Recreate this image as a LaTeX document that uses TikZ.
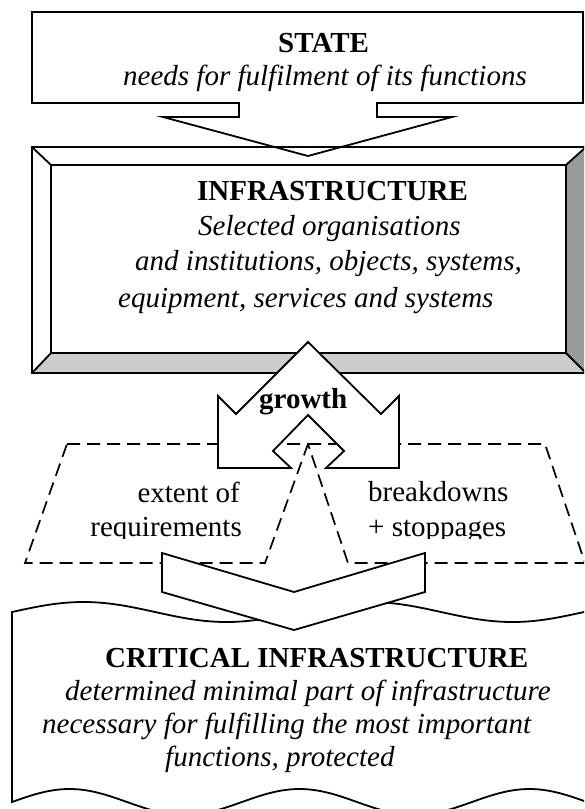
\documentclass[tikz,border=0pt]{standalone}
\usepackage{fontspec}
\setmainfont{Liberation Serif}
\begin{document}
\begin{tikzpicture}[x=1pt,y=-1pt,
  outline/.style={draw=black,line width=1.8pt,line join=miter},
  dashline/.style={draw=black,line width=1.7pt,dash pattern=on 13pt off 7pt},
  txt/.style={inner sep=0pt,anchor=base west,font=\fontsize{29}{34}\selectfont},
  boldtxt/.style={txt,font=\fontsize{29}{34}\selectfont\bfseries},
  ittxt/.style={txt,font=\fontsize{29}{34}\selectfont\itshape},
  lowbevel/.style={fill=black!20},
  sidebevel/.style={fill=black!40}]
\useasboundingbox (0,0) rectangle (584,809);
\clip (0,0) rectangle (584,809);

% critical infrastructure: double-wave banner (phase steps: 360/286 and 360/230 degrees per unit)
\path[outline,fill=white]
  plot[domain=12:612,samples=160] (\x,{612-10*sin(1.2587*(\x-12))})
  -- plot[domain=612:12,samples=160] (\x,{802-13*sin(1.5652*(\x-12))})
  -- cycle;

% the two dashed parallelograms
\draw[dashline] (67,444) -- (308,444) -- (265,563) -- (25,563) -- cycle;
\draw[dashline] (308,444) -- (545,444) -- (585,563) -- (348,563) -- cycle;

% chevron pointing down into the critical infrastructure
\path[outline,fill=white] (162,553) -- (294,592) -- (425,553) -- (425,592)
  -- (294,630) -- (162,592) -- cycle;

% infrastructure: bevelled frame
\fill[white] (32,147) rectangle (586,373);
\path[lowbevel] (32,373) -- (51,353) -- (566,353) -- (586,373) -- cycle;
\path[sidebevel] (566,165) -- (586,147) -- (586,373) -- (566,353) -- cycle;
\draw[outline] (32,147) rectangle (586,373);
\draw[outline] (51,165) rectangle (566,353);
\draw[outline] (32,147) -- (51,165) (586,147) -- (566,165)
               (32,373) -- (51,353) (586,373) -- (566,353);

% growth arrow
\path[outline,fill=white] (308,342) -- (236,414) -- (218,396) -- (218,468)
  -- (291,468) -- (273,451) -- (308,415) -- (344,451) -- (326,468)
  -- (399,468) -- (399,396) -- (381,414) -- cycle;

% state: box with its arrow
\draw[outline] (32,12) -- (583,12) -- (583,103) -- (377,103) -- (377,117)
  -- (452,117) -- (308,156) -- (163,117) -- (239,117) -- (239,103)
  -- (32,103) -- cycle;

% texts
\node[boldtxt] (statetitle) at (278,52) {STATE};
\node[ittxt] (statetext) at (123,85) {needs for fulfilment of its functions};

\node[boldtxt] (infratitle) at (197,200) {INFRASTRUCTURE};
\node[ittxt] (infraa) at (198,235) {Selected organisations};
\node[ittxt] (infrab) at (135,270) {and institutions, objects, systems,};
\node[ittxt] (infrac) at (118,307) {equipment, services and systems};

\node[boldtxt] (growth) at (259,408) {growth};

\begin{scope}
  \clip (0,0) rectangle (584,538);
  \node[txt,anchor=base east] (extenta) at (240,502) {extent of};
  \node[txt,anchor=base east] (extentb) at (242,536) {requirements};
  \node[txt] (breaka) at (368,501) {breakdowns};
  \node[txt] (breakb) at (368,536) {+ stoppages};
\end{scope}

\node[boldtxt] (crittitle) at (105,667) {CRITICAL INFRASTRUCTURE};
\node[ittxt] (crita) at (65,700) {determined minimal part of infrastructure};
\node[ittxt] (critb) at (42,733) {necessary for fulfilling the most important};
\node[ittxt] (critc) at (165,766) {functions, protected};
\end{tikzpicture}
\end{document}
